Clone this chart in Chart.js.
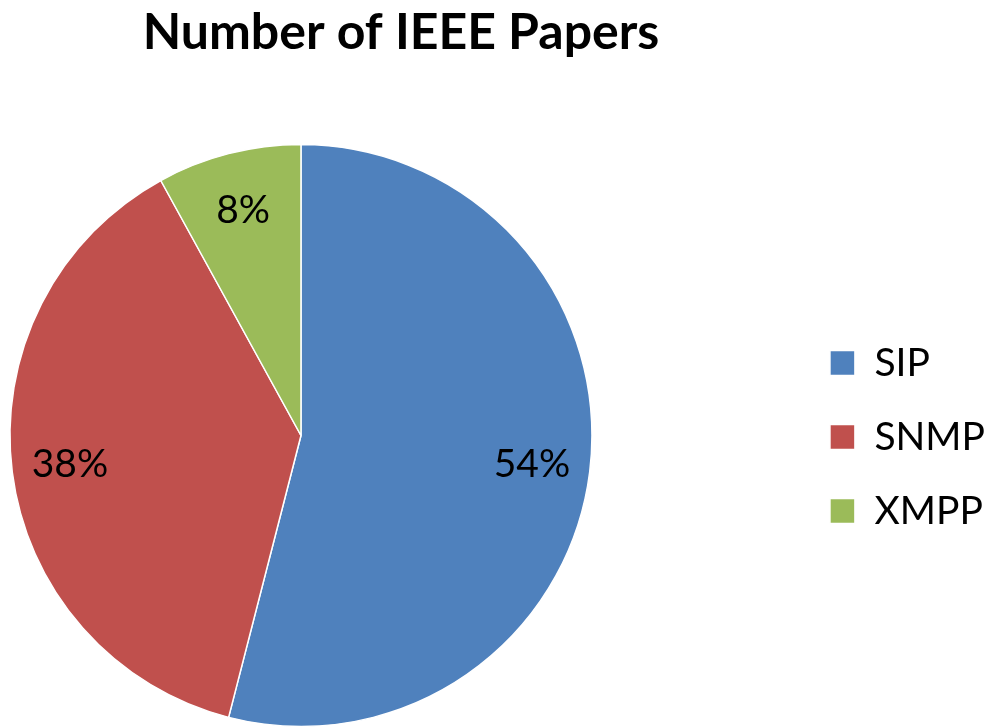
<!DOCTYPE html>
<html>
<head>
<meta charset="utf-8">
<script src="https://cdn.jsdelivr.net/npm/chart.js@4/dist/chart.umd.min.js"></script>
<style>
html, body { margin: 0; padding: 0; background: #fff; overflow: hidden; width: 995px; height: 728px; }
#myChart { position: absolute; left: -193px; top: 0; }
</style>
</head>
<body>
<canvas id="myChart" width="1188" height="808"></canvas>
<script>
const protocols = ['SIP', 'SNMP', 'XMPP']
const paperShare = [54, 38, 8]
const sliceColors = ['#4F81BD', '#C0504D', '#9BBB59']

// percentage text inside each slice
const percentLabels = {
    id: 'percentLabels',
    afterDatasetsDraw(chart) {
        const ctx = chart.ctx
        const meta = chart.getDatasetMeta(0)
        ctx.save()
        ctx.font = '39px Lato'
        ctx.fillStyle = '#000'
        ctx.textAlign = 'center'
        ctx.textBaseline = 'middle'
        meta.data.forEach((arc, i) => {
            const p = arc.getProps(['x', 'y', 'startAngle', 'endAngle', 'outerRadius'], true)
            const mid = (p.startAngle + p.endAngle) / 2
            const r = p.outerRadius * 0.8
            ctx.fillText(paperShare[i] + '%', p.x + Math.cos(mid) * r, p.y + Math.sin(mid) * r)
        })
        ctx.restore()
    }
}

// canvas is wider/taller than the page and shifted left so the pie sits where the original has it
let myChart = document.getElementById('myChart').getContext('2d')
let pieChart = new Chart(myChart, {
    type: 'pie',
    data: {
        labels: protocols,
        datasets: [{
            data: paperShare,
            backgroundColor: sliceColors,
            borderColor: '#fff',
            borderWidth: 1.5,
            radius: 291
        }]
    },
    options: {
        responsive: false,
        animation: false,
        layout: {
            padding: { left: 0, right: 0, top: 0, bottom: 0 }
        },
        plugins: {
            title: {
                display: true,
                text: 'Number of IEEE Papers',
                color: '#000',
                font: { family: 'Lato', size: 50, weight: 'bold', lineHeight: 1.2 },
                padding: { top: 3, bottom: 0 }
            },
            legend: {
                position: 'right',
                // empty legend title, only used to push the items down a bit
                title: {
                    display: true,
                    text: ' ',
                    font: { size: 1, lineHeight: 1 },
                    padding: { top: 32, bottom: 33 }
                },
                labels: {
                    color: '#000',
                    font: { family: 'Lato', size: 39 },
                    boxWidth: 25,
                    boxHeight: 25,
                    padding: 35
                }
            },
            tooltip: { enabled: false }
        }
    },
    plugins: [percentLabels]
})
</script>
</body>
</html>
